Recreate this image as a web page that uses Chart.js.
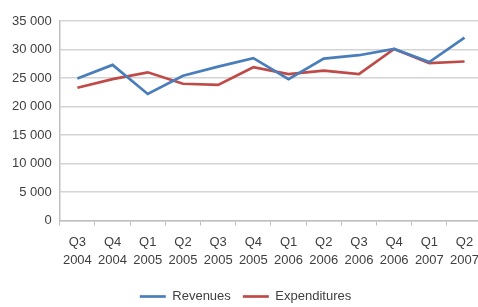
<!DOCTYPE html>
<html>
<head>
<meta charset="utf-8">
<script src="https://cdn.jsdelivr.net/npm/chart.js@4"></script>
<style>
  html, body { margin: 0; padding: 0; background: #fff; overflow: hidden; }
  #wrap { width: 487px; height: 307px; }
</style>
</head>
<body>
<div id="wrap"><canvas id="finChart"></canvas></div>
<script>
const quarters = ["Q3", "Q4", "Q1", "Q2", "Q3", "Q4", "Q1", "Q2", "Q3", "Q4", "Q1", "Q2"];
const years = ["2004", "2004", "2005", "2005", "2005", "2005", "2006", "2006", "2006", "2006", "2007", "2007"];
const revenues = [24900, 27300, 22200, 25400, 27000, 28500, 24800, 28400, 29000, 30100, 27800, 32100];
const expenditures = [23300, 24800, 26000, 24000, 23800, 26900, 25700, 26300, 25700, 30100, 27600, 27900];
const yTicks = [0, 5000, 10000, 15000, 20000, 25000, 30000, 35000];

const labels = quarters.map((q, i) => [q, years[i]]);
const fmt = v => v === 0 ? "0" : Math.floor(v / 1000) + " " + String(v % 1000).padStart(3, "0");

const ctx = document.getElementById("finChart");

new Chart(ctx, {
  type: "line",
  data: {
    labels: labels,
    datasets: [
      {
        label: "Revenues",
        data: revenues,
        borderColor: "#4a7ebb",
        backgroundColor: "#4a7ebb",
        borderWidth: 2.7,
        pointRadius: 0,
        tension: 0,
      },
      {
        label: "Expenditures",
        data: expenditures,
        borderColor: "#be4b48",
        backgroundColor: "#be4b48",
        borderWidth: 2.7,
        pointRadius: 0,
        tension: 0,
      },
    ],
  },
  options: {
    responsive: true,
    maintainAspectRatio: false,
    animation: false,
    layout: { padding: { top: 21, left: 4, right: 0, bottom: -6 } },
    plugins: {
      tooltip: { enabled: false },
      legend: {
        position: "bottom",
        labels: {
          usePointStyle: true,
          pointStyle: "line",
          pointStyleWidth: 26,
          padding: 12,
          color: "#404040",
          font: { family: "Liberation Sans", size: 13 },
        },
      },
    },
    scales: {
      x: {
        offset: true,
        grid: {
          display: true,
          drawOnChartArea: false,
          drawTicks: true,
          tickLength: 5,
          color: "#bfbfbf",
          offset: true,
        },
        border: { color: "#bfbfbf", width: 1.5 },
        ticks: {
          color: "#404040",
          maxRotation: 0,
          autoSkip: false,
          padding: 8,
          font: { family: "Liberation Sans", size: 13, lineHeight: 1.4 },
        },
      },
      y: {
        min: 0,
        max: 35000,
        afterBuildTicks: axis => { axis.ticks = yTicks.map(v => ({ value: v })); },
        grid: { color: "#d4d4d4", lineWidth: 1.5, drawTicks: false },
        border: { color: "#bfbfbf", width: 1.5 },
        ticks: {
          color: "#404040",
          padding: 8,
          callback: v => fmt(v),
          font: { family: "Liberation Sans", size: 13 },
        },
      },
    },
  },
});
</script>
</body>
</html>
